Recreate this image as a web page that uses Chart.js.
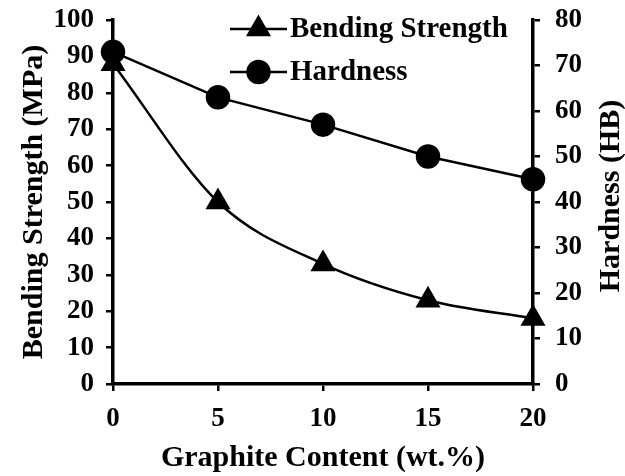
<!DOCTYPE html>
<html>
<head>
<meta charset="utf-8">
<script src="https://cdn.jsdelivr.net/npm/chart.js@4"></script>
<style>
  html, body { margin: 0; padding: 0; background: #fff; }
  #wrap { width: 625px; height: 476px; }
</style>
</head>
<body>
<div id="wrap"><canvas id="graphiteChart" width="625" height="476"></canvas></div>
<script>
// Chart data
const graphiteContent = [0, 5, 10, 15, 20];
const bendingStrength = [88, 50, 33, 23, 18];
const hardness = [73, 63, 57, 50, 45];

const FONT = "'Liberation Serif', 'Times New Roman', serif";
const TICK_FONT = { family: FONT, size: 27, weight: 'bold' };
const TITLE_FONT = { family: FONT, size: 30, weight: 'bold' };

// Legend drawn inside the plot, near the top
const insideLegend = {
    id: 'insideLegend',
    afterDraw(chart) {
        const ctx = chart.ctx;
        const rows = [29, 72];
        const lineX1 = 230, lineX2 = 287, textX = 290;
        chart.data.datasets.forEach((ds, i) => {
            const y = rows[i];
            ctx.save();
            ctx.strokeStyle = '#000';
            ctx.lineWidth = 2.5;
            ctx.beginPath();
            ctx.moveTo(lineX1, y);
            ctx.lineTo(lineX2, y);
            ctx.stroke();
            ctx.fillStyle = '#000';
            ctx.strokeStyle = '#000';
            Chart.helpers.drawPoint(ctx, {
                pointStyle: ds.pointStyle,
                radius: ds.pointRadius,
                borderWidth: 1
            }, (lineX1 + lineX2) / 2, y);
            ctx.font = 'bold 29px ' + FONT;
            ctx.textBaseline = 'middle';
            ctx.fillText(ds.label, textX, y + 1);
            ctx.restore();
        });
    }
};

// Right axis title, reading bottom to top like the left one
const rightTitle = {
    id: 'rightTitle',
    afterDraw(chart) {
        const ctx = chart.ctx;
        const area = chart.chartArea;
        ctx.save();
        ctx.translate(611, (area.top + area.bottom) / 2 - 6);
        ctx.rotate(-Math.PI / 2);
        ctx.fillStyle = '#000';
        ctx.font = 'bold 30px ' + FONT;
        ctx.textAlign = 'center';
        ctx.textBaseline = 'middle';
        ctx.fillText('Hardness (HB)', 0, 0);
        ctx.restore();
    }
};

const ctx = document.getElementById('graphiteChart');
new Chart(ctx, {
    type: 'line',
    data: {
        datasets: [{
            label: 'Bending Strength',
            data: graphiteContent.map((x, i) => ({ x: x, y: bendingStrength[i] })),
            yAxisID: 'y',
            borderColor: '#000',
            backgroundColor: '#000',
            borderWidth: 2.5,
            pointStyle: 'triangle',
            pointRadius: 12,
            pointHoverRadius: 12,
            cubicInterpolationMode: 'monotone',
            clip: false
        }, {
            label: 'Hardness',
            data: graphiteContent.map((x, i) => ({ x: x, y: hardness[i] })),
            yAxisID: 'y1',
            borderColor: '#000',
            backgroundColor: '#000',
            borderWidth: 2.5,
            pointStyle: 'circle',
            pointRadius: 11,
            pointHoverRadius: 11,
            tension: 0,
            clip: false
        }]
    },
    options: {
        responsive: false,
        animation: false,
        layout: { padding: { top: 20, left: 12 } },
        plugins: {
            legend: { display: false },
            tooltip: { enabled: false }
        },
        scales: {
            x: {
                type: 'linear',
                min: 0,
                max: 20,
                ticks: { stepSize: 5, color: '#000', padding: 12, font: TICK_FONT },
                grid: { drawOnChartArea: false, color: '#000', lineWidth: 2.5, tickLength: 7 },
                border: { color: '#000', width: 3.5 },
                title: {
                    display: true,
                    text: 'Graphite Content (wt.%)',
                    color: '#000',
                    padding: { top: 4, bottom: 0 },
                    font: TITLE_FONT
                },
                afterFit(scale) { scale.height = 92; }
            },
            y: {
                position: 'left',
                min: 0,
                max: 100,
                ticks: { stepSize: 10, color: '#000', padding: 12, font: TICK_FONT },
                grid: { drawOnChartArea: false, color: '#000', lineWidth: 2.5, tickLength: 7 },
                border: { color: '#000', width: 3.5 },
                title: {
                    display: true,
                    text: 'Bending Strength (MPa)',
                    color: '#000',
                    font: TITLE_FONT
                },
                afterFit(scale) {
                    scale.width = 101;
                    scale.paddingTop = 0;
                    scale.paddingBottom = 0;
                }
            },
            y1: {
                position: 'right',
                min: 0,
                max: 80,
                ticks: { stepSize: 10, color: '#000', padding: 15, font: TICK_FONT },
                grid: { drawOnChartArea: false, color: '#000', lineWidth: 2.5, tickLength: 7 },
                border: { color: '#000', width: 3.5 },
                afterFit(scale) {
                    scale.width = 92;
                    scale.paddingTop = 0;
                    scale.paddingBottom = 0;
                }
            }
        }
    },
    plugins: [insideLegend, rightTitle]
});
</script>
</body>
</html>
